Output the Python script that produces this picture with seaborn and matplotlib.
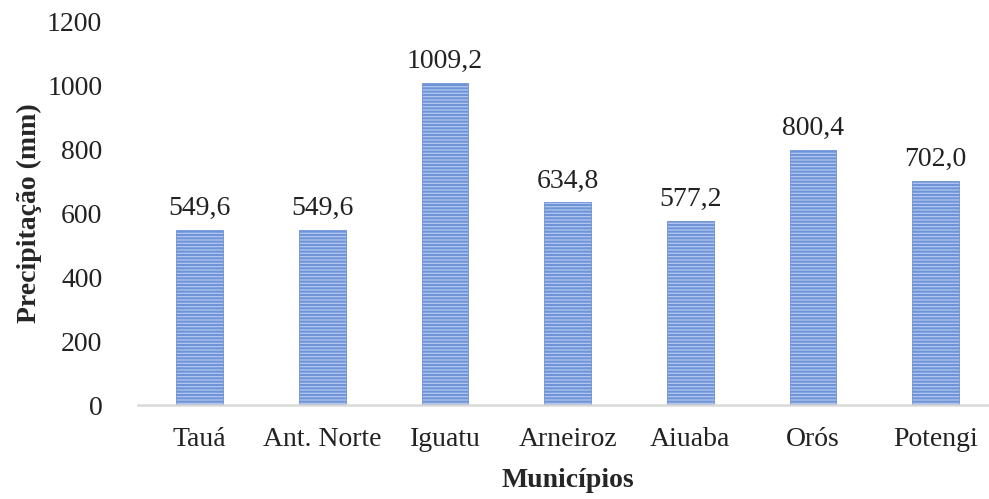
import pandas as pd
import seaborn as sns
import matplotlib.pyplot as plt

municipios = ['Tauá', 'Ant. Norte', 'Iguatu', 'Arneiroz', 'Aiuaba', 'Orós', 'Potengi']
precipitacao = [549.6, 549.6, 1009.2, 634.8, 577.2, 800.4, 702.0]

df = pd.DataFrame({'Municípios': municipios, 'Precipitação (mm)': precipitacao})

sns.set_style('white')
plt.rcParams['font.family'] = ['Liberation Serif', 'DejaVu Serif']
plt.rcParams['hatch.linewidth'] = 1.5
plt.rcParams['hatch.color'] = '#4d79cf'

fig = plt.figure(figsize=(9.89, 4.99), dpi=100)
ax = fig.add_axes([0.14, 0.188, 0.868, 0.768])

sns.barplot(data=df, x='Municípios', y='Precipitação (mm)', ax=ax,
            color='#b3c7ee', width=0.38, edgecolor='#6f93d8', linewidth=0.6,
            saturation=1)
for p in ax.patches:
    p.set_hatch('-----')

# data labels with comma decimal
for p, v in zip(ax.patches, precipitacao):
    ax.text(p.get_x() + p.get_width() / 2, v + 28, f'{v:.1f}'.replace('.', ','),
            ha='center', va='bottom', fontsize=20, color='#222222')

ax.set_ylim(0, 1200)
ax.set_yticks(range(0, 1201, 200))
ax.tick_params(axis='y', labelsize=20, colors='#222222', length=0, pad=26)
ax.tick_params(axis='x', labelsize=20, colors='#222222', length=0, pad=16)
ax.set_xlabel('Municípios', fontsize=20, fontweight='bold', labelpad=11)
ax.set_ylabel('Precipitação (mm)', fontsize=20, fontweight='bold', labelpad=4)

for s in ['top', 'right', 'left']:
    ax.spines[s].set_visible(False)
ax.spines['bottom'].set_color('#d9d9d9')
ax.spines['bottom'].set_linewidth(1.8)

fig.savefig('out.png', dpi=100)
